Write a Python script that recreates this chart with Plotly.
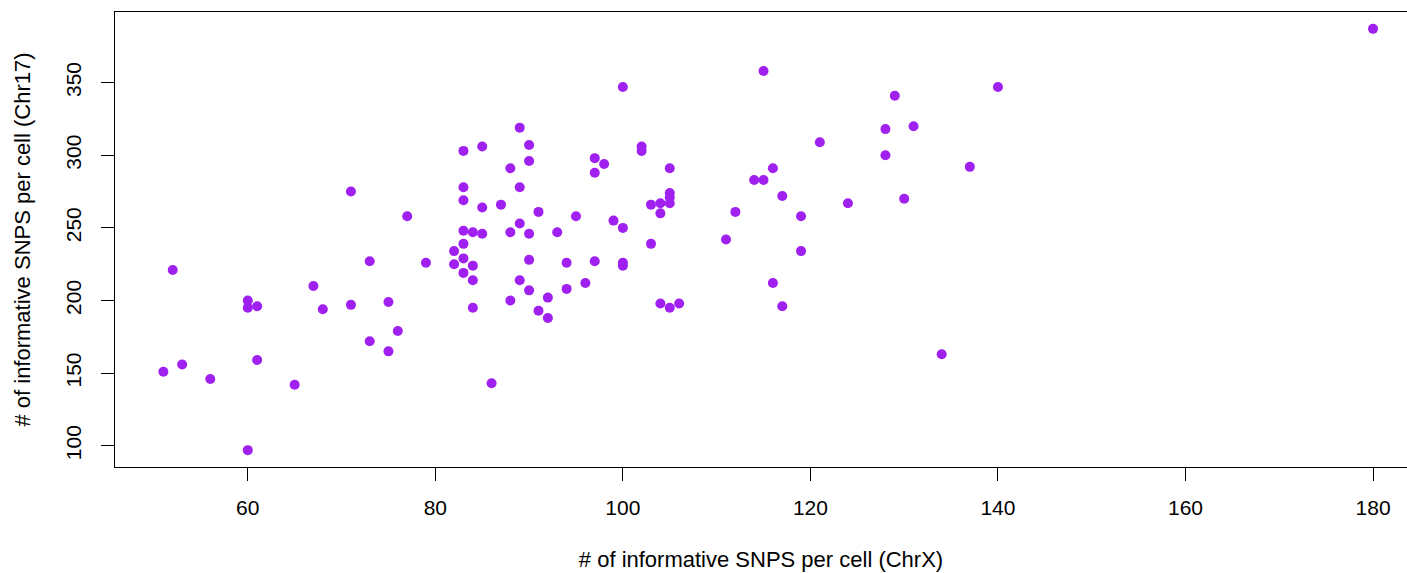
import plotly.graph_objects as go

# Informative SNPs per cell: ChrX (x) vs Chr17 (y)
chrx = [71, 77, 52, 73, 67, 60, 60, 61, 68, 71, 75, 76, 73, 75, 61, 51, 53, 56, 65, 60,
        79, 89, 83, 85, 90, 90, 88, 83, 89, 83, 85, 87, 91, 95, 89, 83, 84, 85, 88, 90,
        93, 99, 100, 97, 98, 97, 102, 102, 105, 105, 105, 105, 103, 104, 104, 103, 83, 82, 83, 82,
        84, 83, 84, 90, 94, 97, 100, 100, 89, 90, 94, 96, 92, 88, 91, 92, 84, 104, 105, 106,
        86, 115, 140, 129, 128, 131, 121, 128, 137, 116, 114, 115, 117, 124, 130, 112, 119, 111, 119, 116,
        117, 134, 100, 180]
chr17 = [275, 258, 221, 227, 210, 200, 195, 196, 194, 197, 199, 179, 172, 165, 159, 151, 156, 146, 142, 97,
         226, 319, 303, 306, 307, 296, 291, 278, 278, 269, 264, 266, 261, 258, 253, 248, 247, 246, 247, 246,
         247, 255, 250, 298, 294, 288, 306, 303, 291, 274, 271, 267, 266, 267, 260, 239, 239, 234, 229, 225,
         224, 219, 214, 228, 226, 227, 226, 224, 214, 207, 208, 212, 202, 200, 193, 188, 195, 198, 195, 198,
         143, 358, 347, 341, 318, 320, 309, 300, 292, 291, 283, 283, 272, 267, 270, 261, 258, 242, 234, 212,
         196, 163, 347, 387]

x_ticks = [60, 80, 100, 120, 140, 160, 180]
y_ticks = [100, 150, 200, 250, 300, 350]

FONT = "Liberation Sans, Arial, sans-serif"

fig = go.Figure(
    go.Scatter(
        x=chrx, y=chr17, mode="markers",
        marker=dict(color="#A020F0", size=10, line=dict(width=0)),
        hoverinfo="x+y",
    )
)

fig.update_layout(
    width=1407, height=573,
    margin=dict(l=115, r=0, t=12, b=106),
    paper_bgcolor="white", plot_bgcolor="white",
    showlegend=False,
    font=dict(family=FONT, size=21, color="black"),
    xaxis=dict(
        range=[45.84, 183.62],
        tickvals=x_ticks, ticktext=[str(v) for v in x_ticks],
        ticks="outside", ticklen=13, tickwidth=1, tickcolor="black",
        showline=True, mirror=True, linecolor="black", linewidth=1,
        showgrid=False, zeroline=False,
        tickfont=dict(family=FONT, size=21, color="black"),
        ticklabelstandoff=9,
        title=dict(text="# of informative SNPS per cell (ChrX)",
                   font=dict(family=FONT, size=22, color="black"), standoff=33),
    ),
    yaxis=dict(
        range=[85.4, 398.6],
        tickvals=y_ticks, ticktext=[str(v) for v in y_ticks],
        ticks="outside", ticklen=13, tickwidth=1, tickcolor="black",
        showline=True, mirror=False, linecolor="black", linewidth=1,
        showgrid=False, zeroline=False, tickangle=-90,
        tickfont=dict(family=FONT, size=21, color="black"),
        ticklabelstandoff=12,
        title=dict(text="# of informative SNPS per cell (Chr17)",
                   font=dict(family=FONT, size=22, color="black"), standoff=24),
    ),
)

fig.write_html("out.html")
